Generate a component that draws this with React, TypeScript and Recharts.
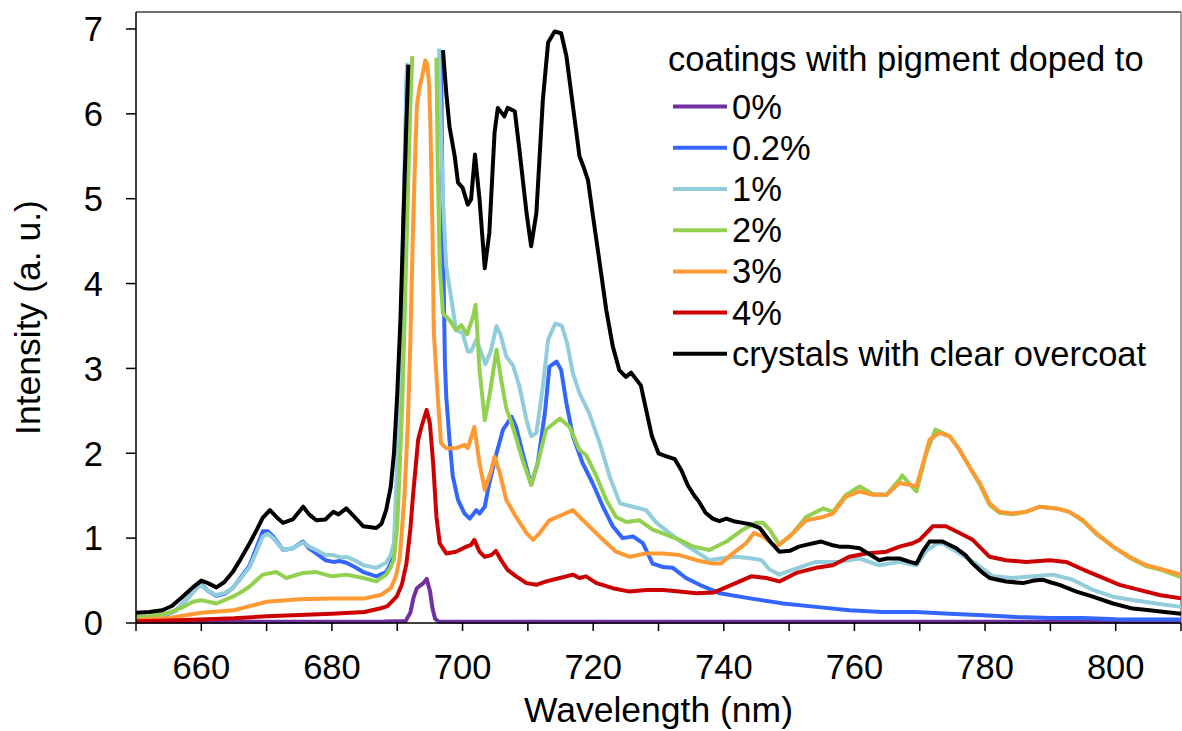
import React from 'react';
import { LineChart, Line, XAxis, YAxis, ReferenceLine, Legend } from 'recharts';

const FONT = '"Liberation Sans", Arial, Helvetica, sans-serif';

// Emission spectra: wavelength (nm) and intensity (a. u.) for each sample.
// null marks the saturated stretch where a trace is not recorded.

// 0%
const nm0 = [650, 660, 670, 680, 688, 691.3, 692.0, 692.5, 693.0, 693.5, 694.0, 694.5, 695.0, 695.4, 695.8, 696.3, 700, 720, 740, 760, 780, 800, 810];
const int0 = [0.016, 0.016, 0.016, 0.016, 0.018, 0.025, 0.12, 0.3, 0.41, 0.44, 0.47, 0.52, 0.38, 0.17, 0.05, 0.018, 0.016, 0.016, 0.016, 0.016, 0.016, 0.016, 0.016];

// 0.2%
const nm1 = [650, 652, 654, 656, 658, 659.3, 660, 661, 662.3, 663.5, 664.8, 666, 667.4, 668.5, 669.4, 670.2, 671, 672.5, 674, 675.6, 676.5, 677.6, 679, 680.2, 681.2, 682.2, 683.5, 684.8, 686.8, 688.3, 689, 689.5, 690, 690.5, 691, 691.5, 692,
  696.7, 697.0, 697.3, 697.5, 698.0, 698.5, 699.3, 700.3, 701.1, 702.1, 702.6, 703.4, 704.1, 705.2, 706.2, 707.5, 708.2, 709.2, 710.5, 711.5, 712.6, 713.3, 714.4, 715.1, 715.9, 716.9, 718.4, 719.9, 721.5, 723.0, 724.5, 726.1, 727.6, 729.1, 730.7, 732.2, 734.2, 736.3, 739.4, 744, 749.1, 754.1, 759.2, 764.3, 769.4, 774.6, 779.7, 784.8, 789.9, 795, 800.1, 805.2, 810];
const int1 = [0.05, 0.06, 0.08, 0.14, 0.3, 0.42, 0.45, 0.38, 0.32, 0.34, 0.41, 0.53, 0.68, 0.9, 1.08, 1.08, 1.02, 0.86, 0.88, 0.96, 0.88, 0.82, 0.74, 0.72, 0.73, 0.71, 0.66, 0.6, 0.55, 0.6, 0.7, 0.82, 1.6, 3.0, 4.8, 6.55, null,
  6.7, 4.5, 3.06, 2.67, 2.16, 1.73, 1.45, 1.29, 1.23, 1.33, 1.29, 1.37, 1.65, 2.0, 2.28, 2.43, 2.31, 2.0, 1.63, 1.88, 2.47, 3.02, 3.08, 2.98, 2.59, 2.2, 1.88, 1.65, 1.37, 1.14, 1.0, 1.02, 0.94, 0.7, 0.66, 0.65, 0.53, 0.45, 0.35, 0.29, 0.23, 0.19, 0.15, 0.13, 0.13, 0.11, 0.09, 0.07, 0.06, 0.06, 0.045, 0.04, 0.04];

// 1%
const nm2 = [650, 652, 654, 656, 658, 659.3, 660, 661, 662.3, 663.5, 664.8, 666, 667.4, 668.5, 669.4, 670.2, 671, 672.5, 674, 675.6, 676.5, 677.6, 679, 680.2, 681.5, 682.2, 683.5, 684.8, 686.8, 688.3, 689, 689.5, 690, 690.5, 691, 691.5, 692,
  696.4, 696.7, 697.0, 697.5, 698.3, 699.0, 700.0, 700.8, 701.3, 702.1, 702.8, 703.5, 704.3, 705.2, 705.8, 706.7, 707.7, 708.7, 709.8, 710.5, 711.3, 712.3, 713.1, 714.2, 715.2, 716.0, 716.9, 717.9, 719.4, 721.0, 722.5, 724.1, 726.1, 728.1, 729.7, 731.7, 733.7, 735.8, 737.8, 739.4, 741.9, 744.4, 745.8, 747, 748.5, 750.6, 752.5, 754.1, 757.7, 760.8, 763.8, 766.9, 769.5, 771, 772.5, 773.5, 776.1, 778.6, 781.2, 784.2, 787.3, 790.4, 793.4, 796.5, 799.6, 802.6, 806.2, 810];
const int2 = [0.06, 0.07, 0.09, 0.14, 0.3, 0.42, 0.44, 0.38, 0.33, 0.35, 0.41, 0.52, 0.66, 0.85, 1.02, 1.05, 1.0, 0.86, 0.88, 0.95, 0.9, 0.86, 0.8, 0.8, 0.77, 0.78, 0.74, 0.68, 0.65, 0.71, 0.8, 0.95, 1.9, 3.3, 5.0, 6.6, null,
  6.77, 5.78, 4.99, 4.2, 3.81, 3.45, 3.42, 3.2, 3.2, 3.34, 3.2, 3.05, 3.2, 3.5, 3.4, 3.14, 3.04, 2.79, 2.39, 2.2, 2.24, 2.79, 3.34, 3.53, 3.5, 3.3, 2.94, 2.71, 2.47, 2.12, 1.73, 1.41, 1.37, 1.33, 1.18, 1.06, 0.94, 0.84, 0.74, 0.76, 0.78, 0.76, 0.74, 0.63, 0.57, 0.63, 0.68, 0.72, 0.72, 0.76, 0.68, 0.72, 0.68, 0.85, 0.93, 0.94, 0.82, 0.7, 0.55, 0.53, 0.55, 0.57, 0.51, 0.39, 0.31, 0.27, 0.23, 0.19];

// 2%
const nm3 = [650, 652, 655, 657, 658.7, 660, 662.3, 664.8, 666, 667.4, 669.4, 671.5, 673, 675.6, 677.6, 680, 682.2, 684.8, 686.8, 688.3, 689, 689.5, 690, 690.4, 690.8, 691.2, 691.6, 692.0, 692.3, 692.6,
  696.0, 696.2, 696.5, 697.0, 698.0, 699.0, 699.8, 700.7, 701.6, 702.0, 702.6, 703.4, 704.1, 705.2, 705.9, 706.7, 707.7, 709.2, 710.5, 711.5, 712.8, 714.9, 716.4, 717.9, 718.9, 720.5, 722.0, 723.5, 725.1, 727.1, 729.1, 731.2, 733.2, 735.3, 737.8, 740.4, 742.9, 744.9, 746, 747, 748.5, 750.6, 752.6, 755.2, 756.7, 758.7, 760.8, 762.8, 764.9, 766.9, 767.3, 768.2, 769.5, 771, 772.4, 773.0, 774.6, 776.1, 777.6, 779.2, 780.7, 782.2, 784.2, 786.3, 788.3, 790.9, 792.9, 795, 797, 799.6, 802.1, 804.7, 807.2, 810];
const int3 = [0.07, 0.08, 0.12, 0.18, 0.25, 0.27, 0.23, 0.31, 0.36, 0.43, 0.57, 0.6, 0.53, 0.59, 0.6, 0.55, 0.57, 0.53, 0.49, 0.57, 0.66, 0.75, 1.15, 1.88, 2.67, 3.8, 5.0, 6.1, 6.68, null,
  6.66, 5.38, 4.2, 3.65, 3.57, 3.45, 3.51, 3.4, 3.61, 3.75, 2.98, 2.39, 2.67, 3.22, 2.87, 2.53, 2.31, 1.92, 1.63, 1.88, 2.28, 2.41, 2.31, 2.04, 1.98, 1.73, 1.45, 1.25, 1.19, 1.21, 1.1, 1.04, 0.98, 0.9, 0.86, 0.96, 1.1, 1.18, 1.18, 1.1, 0.92, 1.06, 1.25, 1.35, 1.31, 1.51, 1.61, 1.52, 1.51, 1.69, 1.74, 1.66, 1.55, 2.0, 2.28, 2.26, 2.2, 2.04, 1.84, 1.63, 1.39, 1.3, 1.28, 1.31, 1.37, 1.35, 1.31, 1.2, 1.05, 0.9, 0.77, 0.67, 0.62, 0.54];

// 3%
const nm4 = [650, 655, 660, 665, 670, 675, 680, 685, 687.5, 689, 689.8, 690.4, 691.1, 691.6, 692.0, 692.4, 692.7, 693.0, 693.4, 693.8, 694.3, 694.6, 694.9, 695.1, 695.4, 695.6, 696.2, 696.7, 697.5, 699.0, 700.3, 700.8, 701.8, 702.6, 703.4, 704.4, 704.9, 705.7, 706.7, 708.2, 709.8, 710.8, 711.8, 713.3, 715.1, 716.9, 717.9, 719.4, 721.5, 723.5, 725.6, 728.1, 730.7, 733.2, 735.8, 738.3, 739.5, 741.4, 743.4, 744.6, 746, 748, 750.1, 752.6, 755.2, 756.7, 758.7, 760.8, 762.8, 764.9, 766.9, 768.4, 769.5, 770.5, 771.5, 773.0, 774.6, 776.1, 777.6, 779.2, 780.7, 782.2, 784.2, 786.3, 788.3, 790.9, 792.9, 795, 797, 799.6, 802.1, 804.7, 807.2, 810];
const int4 = [0.035, 0.06, 0.12, 0.15, 0.25, 0.28, 0.29, 0.29, 0.33, 0.41, 0.55, 0.78, 1.49, 2.3, 3.3, 4.6, 5.4, 6.09, 6.31, 6.44, 6.63, 6.58, 6.32, 5.78, 4.6, 3.42, 2.67, 2.12, 2.06, 2.06, 2.1, 2.06, 2.31, 1.88, 1.57, 1.8, 1.96, 1.77, 1.45, 1.25, 1.06, 0.98, 1.06, 1.21, 1.27, 1.33, 1.25, 1.14, 0.98, 0.84, 0.78, 0.82, 0.82, 0.8, 0.74, 0.7, 0.7, 0.82, 0.94, 1.06, 1.02, 0.9, 1.02, 1.21, 1.25, 1.29, 1.49, 1.55, 1.51, 1.51, 1.65, 1.63, 1.61, 1.88, 2.16, 2.24, 2.2, 2.04, 1.84, 1.65, 1.41, 1.31, 1.29, 1.31, 1.37, 1.35, 1.31, 1.21, 1.06, 0.9, 0.78, 0.68, 0.63, 0.57];

// 4%
const nm5 = [650, 655, 660, 665, 670, 675, 680, 685, 687.3, 688.5, 689.9, 690.7, 691.4, 692.0, 692.4, 693.2, 693.7, 694.5, 695.0, 695.5, 696.0, 696.5, 697.5, 699.0, 700.6, 701.3, 701.8, 702.6, 703.4, 704.4, 705.1, 705.9, 706.9, 708.2, 709.8, 711.3, 712.8, 714.9, 716.9, 717.9, 718.9, 720.5, 723.0, 725.6, 728.1, 730.7, 733.2, 735.8, 738.5, 741.2, 744.2, 746.5, 748.5, 751.1, 754.1, 756.7, 759.2, 761.8, 764.9, 766.9, 768.9, 770.0, 772.0, 774.0, 776.1, 778.1, 780.7, 783.2, 786.3, 789.9, 792.4, 795, 797.5, 800.6, 803.6, 806.7, 810];
const int5 = [0.02, 0.03, 0.04, 0.055, 0.08, 0.095, 0.11, 0.13, 0.17, 0.2, 0.31, 0.45, 0.7, 1.1, 1.49, 2.16, 2.31, 2.51, 2.35, 1.88, 1.25, 0.94, 0.82, 0.84, 0.9, 0.92, 0.98, 0.84, 0.78, 0.8, 0.85, 0.74, 0.625, 0.55, 0.47, 0.45, 0.49, 0.53, 0.57, 0.53, 0.55, 0.47, 0.41, 0.37, 0.39, 0.39, 0.37, 0.35, 0.36, 0.45, 0.55, 0.53, 0.49, 0.59, 0.65, 0.68, 0.78, 0.82, 0.84, 0.9, 0.94, 0.98, 1.14, 1.14, 1.06, 0.98, 0.78, 0.74, 0.72, 0.74, 0.72, 0.63, 0.55, 0.45, 0.39, 0.33, 0.29];

// crystals with clear overcoat
const nm6 = [650, 652, 654, 655.5, 657, 658.7, 660, 661, 662.3, 663.5, 664.8, 666, 667.4, 668.5, 669.4, 670.5, 671.5, 672.5, 674, 675.6, 676.5, 677.6, 679, 680.2, 681, 682.2, 683.2, 684.8, 686.8, 687.6, 688.3, 689, 689.5, 690, 690.5, 691, 691.4, 691.7, 692,
  697.0, 697.5, 698.0, 698.8, 699.3, 700.0, 700.8, 701.3, 701.9, 702.6, 703.4, 704.1, 704.9, 705.4, 706.4, 706.9, 708.0, 708.7, 709.8, 710.5, 711.3, 712.3, 713.1, 714.1, 715.1, 715.9, 716.9, 717.9, 718.5, 719.2, 720.2, 721.0, 722.0, 723.0, 724, 725, 725.8, 726.5, 727.3, 728, 729, 730, 731, 732.5, 733.5, 734.5, 735.5, 736.2, 737.2, 738.3, 739.3, 740.4, 741.5, 742.9, 744.2, 745.5, 746.5, 747.3, 748.5, 750.1, 751.5, 752.6, 754.9, 756.5, 757.7, 759, 760.8, 762.5, 763.8, 765, 766.9, 768.5, 769.5, 770.5, 771.5, 773.5, 775.6, 777, 778.1, 779.5, 780.7, 783.2, 785.8, 787.5, 788.8, 790, 791.4, 794, 796.5, 799.6, 802.6, 805.2, 807.5, 810];
const int6 = [0.12, 0.13, 0.15, 0.2, 0.3, 0.42, 0.5, 0.47, 0.42, 0.48, 0.6, 0.75, 0.94, 1.1, 1.24, 1.33, 1.25, 1.18, 1.22, 1.37, 1.28, 1.21, 1.22, 1.31, 1.28, 1.35, 1.27, 1.14, 1.12, 1.17, 1.33, 1.6, 2.0, 2.7, 3.6, 4.9, 5.9, 6.58, null,
  6.75, 6.25, 5.85, 5.5, 5.19, 5.13, 4.93, 4.99, 5.52, 4.99, 4.18, 4.6, 5.78, 6.07, 5.97, 6.07, 6.03, 5.58, 4.83, 4.44, 4.83, 6.17, 6.84, 6.97, 6.95, 6.68, 6.09, 5.5, 5.38, 5.22, 4.67, 4.24, 3.69, 3.26, 2.98, 2.9, 2.95, 2.88, 2.8, 2.55, 2.2, 2.0, 1.97, 1.93, 1.8, 1.62, 1.5, 1.43, 1.3, 1.23, 1.2, 1.23, 1.2, 1.18, 1.16, 1.12, 1.02, 0.94, 0.84, 0.85, 0.9, 0.92, 0.96, 0.92, 0.9, 0.9, 0.88, 0.8, 0.74, 0.76, 0.76, 0.72, 0.7, 0.85, 0.96, 0.96, 0.88, 0.8, 0.7, 0.6, 0.53, 0.49, 0.47, 0.5, 0.51, 0.48, 0.45, 0.37, 0.31, 0.23, 0.17, 0.15, 0.13, 0.11];

const seriesNames = ['0%', '0.2%', '1%', '2%', '3%', '4%', 'crystals with clear overcoat'];
const seriesColors = ['#7030A0', '#3366FF', '#92CDDC', '#92D050', '#FF9933', '#CC0000', '#000000'];
const seriesNm = [nm0, nm1, nm2, nm3, nm4, nm5, nm6];
const seriesInt = [int0, int1, int2, int3, int4, int5, int6];

const legendTitle = 'coatings with pigment doped to';
const xTitle = 'Wavelength (nm)';
const yTitle = 'Intensity (a. u.)';
const xTicks = [650, 660, 670, 680, 690, 700, 710, 720, 730, 740, 750, 760, 770, 780, 790, 800, 810];
const yTicks = [0, 1, 2, 3, 4, 5, 6, 7];

const toPoints = (nm: number[], val: (number | null)[]) =>
  nm.map((x, i) => ({ nm: x, v: val[i] }));

const XTitle = (props: any) => {
  const vb = props.viewBox || { x: 136, y: 623, width: 1045, height: 108 };
  return (
    <text x={vb.x + vb.width / 2} y={vb.y + 99} textAnchor="middle"
      fontFamily={FONT} fontSize={35.5} fill="#000">{xTitle}</text>
  );
};

const YTitle = (props: any) => {
  const vb = props.viewBox || { x: 0, y: 12, width: 136, height: 611 };
  const cx = vb.x + 40;
  const cy = vb.y + vb.height / 2;
  return (
    <text x={cx} y={cy} textAnchor="middle" transform={`rotate(-90, ${cx}, ${cy})`}
      fontFamily={FONT} fontSize={35.5} fill="#000">{yTitle}</text>
  );
};

const LEG_LEFT = 640;
const LEG_TOP = 20;

const LegendBox = () => (
  <svg width={540} height={360} style={{ display: 'block', overflow: 'visible' }}>
    <text x={668 - LEG_LEFT} y={71 - LEG_TOP} fontFamily={FONT} fontSize={34.5} fill="#000">{legendTitle}</text>
    {seriesNames.map((name, i) => {
      const cy = 106.6 + i * 41.2 - LEG_TOP;
      return (
        <g key={name}>
          <line x1={673 - LEG_LEFT} x2={727 - LEG_LEFT} y1={cy} y2={cy} stroke={seriesColors[i]} strokeWidth={4} />
          <text x={732 - LEG_LEFT} y={cy + 12} fontFamily={FONT} fontSize={34.5} fill="#000">{name}</text>
        </g>
      );
    })}
  </svg>
);

export default function App() {
  return (
    <div style={{ position: 'absolute', left: 0, top: 0, width: 1182, height: 731, background: '#fff' }}>
      <LineChart width={1182} height={731} margin={{ top: 12, right: 1, bottom: 0, left: 0 }}>
        <XAxis
          type="number"
          dataKey="nm"
          domain={[650, 810]}
          ticks={xTicks}
          interval={0}
          tickFormatter={(v: number) => (v % 20 === 0 ? String(v) : '')}
          tickSize={8}
          tickMargin={24}
          height={108}
          axisLine={{ stroke: '#000', strokeWidth: 1.5 }}
          tickLine={{ stroke: '#000', strokeWidth: 1.5 }}
          tick={{ fill: '#000', fontSize: 34.5, fontFamily: FONT }}
          label={<XTitle />}
        />
        <YAxis
          type="number"
          domain={[0, 7.2]}
          ticks={yTicks}
          interval={0}
          width={136}
          tickSize={10}
          tickMargin={23}
          axisLine={{ stroke: '#000', strokeWidth: 1.5 }}
          tickLine={{ stroke: '#000', strokeWidth: 1.5 }}
          tick={{ fill: '#000', fontSize: 34.5, fontFamily: FONT }}
          label={<YTitle />}
        />
        <ReferenceLine y={7.2} stroke="#404040" strokeWidth={1.5} />
        <ReferenceLine x={810} stroke="#808080" strokeWidth={1.5} />
        {seriesNames.map((name, i) => (
          <Line
            key={name}
            name={name}
            data={toPoints(seriesNm[i], seriesInt[i])}
            dataKey="v"
            type="linear"
            stroke={seriesColors[i]}
            strokeWidth={4}
            strokeLinejoin="round"
            dot={false}
            activeDot={false}
            connectNulls={false}
            isAnimationActive={false}
          />
        ))}
        <Legend
          layout="vertical"
          align="center"
          verticalAlign="middle"
          wrapperStyle={{ left: LEG_LEFT, top: LEG_TOP, width: 540, height: 360 }}
          content={() => <LegendBox />}
        />
      </LineChart>
    </div>
  );
}
